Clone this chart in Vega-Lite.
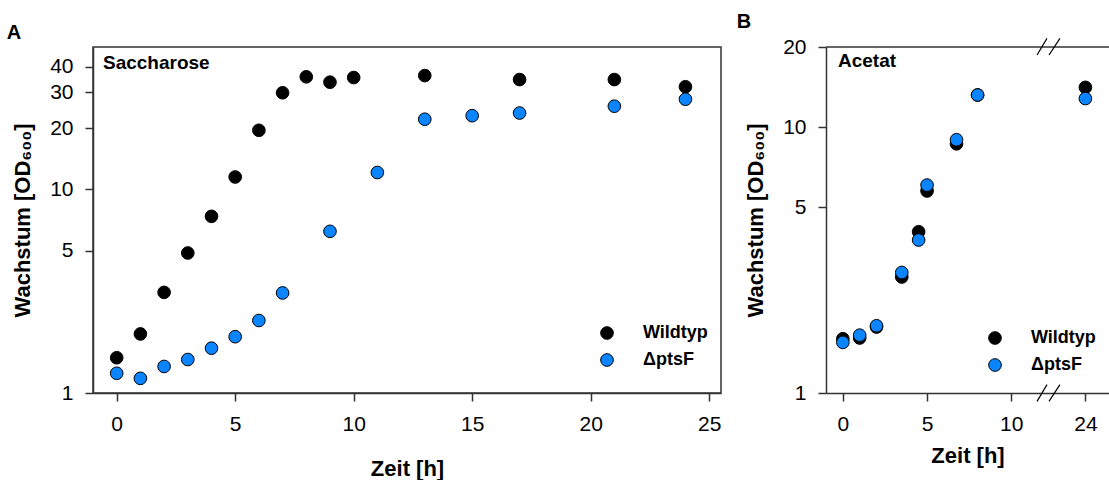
{
  "$schema": "https://vega.github.io/schema/vega-lite/v6.json",
  "padding": {"left": 5, "top": 12, "right": 0, "bottom": 0},
  "background": "white",
  "config": {
    "font": "Liberation Sans",
    "view": {"stroke": null},
    "axis": {
      "labelFont": "Liberation Sans", "labelFontSize": 21, "labelColor": "#000",
      "titleFont": "Liberation Sans", "titleFontSize": 22, "titleFontWeight": "bold", "titleColor": "#000",
      "domainColor": "#333", "domainWidth": 1.5, "tickColor": "#333", "tickWidth": 1.5, "tickSize": 8,
      "labelPadding": 12, "grid": false
    },
    "legend": {
      "orient": "none", "title": null, "labelFont": "Liberation Sans", "labelFontSize": 18,
      "labelFontWeight": "bold", "labelColor": "#000", "symbolType": "circle", "symbolSize": 160,
      "symbolStrokeColor": "#000", "symbolStrokeWidth": 1, "labelOffset": 27, "rowPadding": 9, "padding": 0
    },
    "title": {"font": "Liberation Sans", "fontSize": 20, "fontWeight": "bold", "color": "#000", "anchor": "start", "frame": "bounds"}
  },
  "datasets": {
    "sac": [
      {"time": 0, "od": 1.49, "strain": "Wildtyp"},
      {"time": 1, "od": 1.95, "strain": "Wildtyp"},
      {"time": 2, "od": 3.12, "strain": "Wildtyp"},
      {"time": 3, "od": 4.87, "strain": "Wildtyp"},
      {"time": 4, "od": 7.37, "strain": "Wildtyp"},
      {"time": 5, "od": 11.5, "strain": "Wildtyp"},
      {"time": 6, "od": 19.5, "strain": "Wildtyp"},
      {"time": 7, "od": 29.8, "strain": "Wildtyp"},
      {"time": 8, "od": 35.7, "strain": "Wildtyp"},
      {"time": 9, "od": 33.6, "strain": "Wildtyp"},
      {"time": 10, "od": 35.4, "strain": "Wildtyp"},
      {"time": 13, "od": 36.2, "strain": "Wildtyp"},
      {"time": 17, "od": 34.6, "strain": "Wildtyp"},
      {"time": 21, "od": 34.6, "strain": "Wildtyp"},
      {"time": 24, "od": 31.9, "strain": "Wildtyp"},
      {"time": 0, "od": 1.25, "strain": "ΔptsF"},
      {"time": 1, "od": 1.18, "strain": "ΔptsF"},
      {"time": 2, "od": 1.35, "strain": "ΔptsF"},
      {"time": 3, "od": 1.46, "strain": "ΔptsF"},
      {"time": 4, "od": 1.66, "strain": "ΔptsF"},
      {"time": 5, "od": 1.89, "strain": "ΔptsF"},
      {"time": 6, "od": 2.27, "strain": "ΔptsF"},
      {"time": 7, "od": 3.10, "strain": "ΔptsF"},
      {"time": 9, "od": 6.22, "strain": "ΔptsF"},
      {"time": 11, "od": 12.1, "strain": "ΔptsF"},
      {"time": 13, "od": 22.1, "strain": "ΔptsF"},
      {"time": 15, "od": 23.0, "strain": "ΔptsF"},
      {"time": 17, "od": 23.7, "strain": "ΔptsF"},
      {"time": 21, "od": 25.6, "strain": "ΔptsF"},
      {"time": 24, "od": 27.7, "strain": "ΔptsF"}
    ],
    "ace": [
      {"time": 0, "od": 1.60, "strain": "Wildtyp"},
      {"time": 1, "od": 1.61, "strain": "Wildtyp"},
      {"time": 2, "od": 1.77, "strain": "Wildtyp"},
      {"time": 3.5, "od": 2.73, "strain": "Wildtyp"},
      {"time": 4.5, "od": 4.04, "strain": "Wildtyp"},
      {"time": 5, "od": 5.75, "strain": "Wildtyp"},
      {"time": 6.75, "od": 8.65, "strain": "Wildtyp"},
      {"time": 8, "od": 13.2, "strain": "Wildtyp"},
      {"time": 24, "od": 14.1, "strain": "Wildtyp"},
      {"time": 0, "od": 1.55, "strain": "ΔptsF"},
      {"time": 1, "od": 1.65, "strain": "ΔptsF"},
      {"time": 2, "od": 1.79, "strain": "ΔptsF"},
      {"time": 3.5, "od": 2.84, "strain": "ΔptsF"},
      {"time": 4.5, "od": 3.76, "strain": "ΔptsF"},
      {"time": 5, "od": 6.05, "strain": "ΔptsF"},
      {"time": 6.75, "od": 8.96, "strain": "ΔptsF"},
      {"time": 8, "od": 13.2, "strain": "ΔptsF"},
      {"time": 24, "od": 12.8, "strain": "ΔptsF"}
    ]
  },
  "spacing": 14,
  "resolve": {"scale": {"x": "independent", "y": "independent", "fill": "independent"}, "legend": {"fill": "independent"}},
  "hconcat": [
    {
      "width": 628, "height": 346,
      "title": {"text": "A", "dx": -5},
      "view": {"stroke": "#333", "strokeWidth": 1.5},
      "layer": [
        {
          "data": {"name": "sac"},
          "mark": {"type": "point", "filled": true, "stroke": "#000", "strokeWidth": 1, "size": 160, "opacity": 1},
          "encoding": {
            "x": {"field": "time", "type": "quantitative",
                  "scale": {"domain": [-1, 25.5], "nice": false, "zero": false},
                  "axis": {"values": [0, 5, 10, 15, 20, 25], "title": "Zeit [h]", "titlePadding": 24}},
            "y": {"field": "od", "type": "quantitative",
                  "scale": {"type": "log", "domain": [1, 50], "nice": false},
                  "axis": {"values": [1, 5, 10, 20, 30, 40], "format": "~g", "title": "Wachstum [OD₆₀₀]", "titlePadding": 15}},
            "fill": {"field": "strain", "type": "nominal",
                     "scale": {"domain": ["Wildtyp", "ΔptsF"], "range": ["#000000", "#0a84ff"]},
                     "legend": {"legendX": 505, "legendY": 277}}
          }
        },
        {
          "data": {"values": [{"label": "Saccharose"}]},
          "mark": {"type": "text", "align": "left", "baseline": "top", "dx": 10, "dy": 7, "fontSize": 19, "fontWeight": "bold", "color": "#000"},
          "encoding": {"x": {"datum": -1}, "y": {"datum": 50}, "text": {"field": "label"}}
        }
      ]
    },
    {
      "width": 283, "height": 346,
      "title": {"text": "B", "dx": -8},
      "layer": [
        {
          "data": {"values": [{}]},
          "mark": {"type": "rule", "color": "#333", "strokeWidth": 1.5},
          "encoding": {"y": {"datum": 20}}
        },
        {
          "data": {"name": "ace"},
          "mark": {"type": "point", "filled": true, "stroke": "#000", "strokeWidth": 1, "size": 160, "opacity": 1},
          "encoding": {
            "x": {"field": "time", "type": "quantitative",
                  "scale": {"domain": [-1, 12.3, 21.9, 25.4], "range": [0, 224, 224, 283], "nice": false, "zero": false},
                  "axis": {"values": [0, 5, 10, 24], "title": "Zeit [h]", "titlePadding": 11}},
            "y": {"field": "od", "type": "quantitative",
                  "scale": {"type": "log", "domain": [1, 20], "nice": false},
                  "axis": {"values": [1, 5, 10, 20], "format": "~g", "title": "Wachstum [OD₆₀₀]", "titlePadding": 15}},
            "fill": {"field": "strain", "type": "nominal",
                     "scale": {"domain": ["Wildtyp", "ΔptsF"], "range": ["#000000", "#0a84ff"]},
                     "legend": {"legendX": 160, "legendY": 282}}
          }
        },
        {
          "data": {"values": [{"label": "Acetat"}]},
          "mark": {"type": "text", "align": "left", "baseline": "top", "dx": 12, "dy": 5, "fontSize": 19, "fontWeight": "bold", "color": "#000"},
          "encoding": {"x": {"datum": -1}, "y": {"datum": 20}, "text": {"field": "label"}}
        },
        {
          "data": {"values": [{}]},
          "mark": {"type": "rule", "color": "#000", "strokeWidth": 1.2},
          "encoding": {"x": {"datum": 11.53}, "x2": {"datum": 12.12}, "y": {"datum": 18.66}, "y2": {"datum": 21.55}}
        },
        {
          "data": {"values": [{}]},
          "mark": {"type": "rule", "color": "#000", "strokeWidth": 1.2},
          "encoding": {"x": {"datum": 12.24}, "x2": {"datum": 22.49}, "y": {"datum": 18.66}, "y2": {"datum": 21.55}}
        },
        {
          "data": {"values": [{}]},
          "mark": {"type": "rule", "color": "#000", "strokeWidth": 1.2},
          "encoding": {"x": {"datum": 11.53}, "x2": {"datum": 12.12}, "y": {"datum": 0.93}, "y2": {"datum": 1.0755}}
        },
        {
          "data": {"values": [{}]},
          "mark": {"type": "rule", "color": "#000", "strokeWidth": 1.2},
          "encoding": {"x": {"datum": 12.24}, "x2": {"datum": 22.49}, "y": {"datum": 0.93}, "y2": {"datum": 1.0755}}
        }
      ]
    }
  ]
}
